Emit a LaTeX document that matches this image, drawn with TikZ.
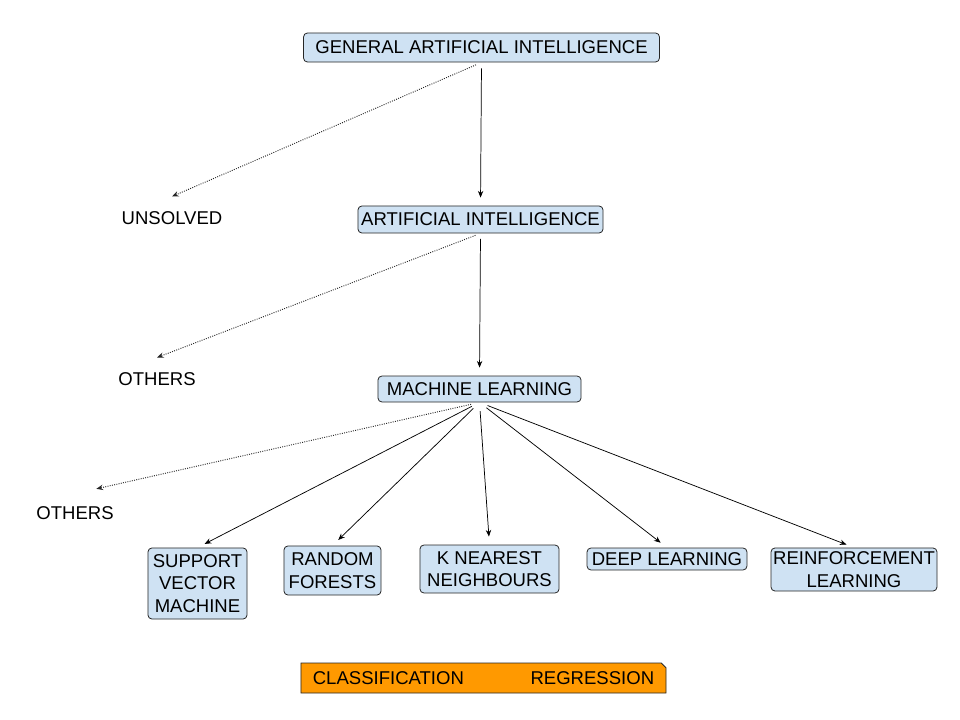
\documentclass[tikz,border=0pt]{standalone}
\usepackage{fontspec}
\setmainfont{Liberation Sans}
\usetikzlibrary{arrows.meta, shapes.misc}
\definecolor{boxblue}{RGB}{207,226,243}
\definecolor{boxorange}{RGB}{255,153,0}

\begin{document}
\begin{tikzpicture}[x=0.75pt,y=-0.75pt,
	font=\fontsize{13.9}{16.7}\selectfont,
	topic/.style={shape=rectangle,rounded corners=3pt,draw=black!85,line width=0.6pt,fill=boxblue,inner sep=0pt,align=center},
	plain/.style={inner sep=0pt,align=center},
	tip/.style={-{Stealth[length=5pt,width=4pt]}},
	solidarr/.style={tip,line width=0.55pt,black,shorten >=6pt},
	dotarr/.style={tip,densely dotted,line width=0.7pt,black!85}]
	\useasboundingbox (0,0) rectangle (960,720);

	\node[topic,minimum width=267pt,minimum height=21.8pt] (gai) at (481.5,47.5){GENERAL ARTIFICIAL INTELLIGENCE};
	\node[plain] (unsolved) at (172,218){UNSOLVED};
	\node[topic,minimum width=183.8pt,minimum height=20.3pt] (ai) at (480.5,219.5){ARTIFICIAL INTELLIGENCE};
	\node[plain] (others1) at (157,379){OTHERS};
	\node[topic,minimum width=152.3pt,minimum height=19.5pt] (ml) at (479.5,389){MACHINE LEARNING};
	\node[plain] (others2) at (75,513){OTHERS};

	% algorithms
	\node[topic,minimum width=74.3pt,minimum height=53.3pt] (svm) at (197.5,583.5){SUPPORT\\VECTOR\\MACHINE};
	\node[topic,minimum width=72.8pt,minimum height=36.8pt] (rf) at (332.5,570.5){RANDOM\\FORESTS};
	\node[topic,minimum width=104.3pt,minimum height=36pt] (knn) at (489.5,569){K NEAREST\\NEIGHBOURS};
	\node[topic,minimum width=120pt,minimum height=16.5pt] (dl) at (667,559){DEEP LEARNING};
	\node[topic,minimum width=124.5pt,minimum height=32.3pt] (rl) at (854,569.5){REINFORCEMENT\\LEARNING};

	\node[chamfered rectangle,chamfered rectangle corners=north east,chamfered rectangle xsep=1.8pt,chamfered rectangle ysep=1.8pt,
		draw=black!85,line width=0.6pt,fill=boxorange,inner sep=0pt,minimum width=273.8pt,minimum height=22.5pt] (task) at (483.5,678){CLASSIFICATION\hspace{50pt}REGRESSION};

	\path [solidarr,shorten <=4.5pt] (gai.south) edge (ai.north);
	\path [dotarr,shorten <=4.5pt] (gai.south) edge ([yshift=11pt]unsolved.north);
	\path [solidarr,shorten <=4pt] (ai.south) edge (ml.north);
	\path [dotarr,shorten <=4pt] (ai.south) edge ([yshift=11pt]others1.north);
	\path [dotarr,shorten <=6.5pt] (ml.south) edge ([xshift=16pt,yshift=13pt]others2.north);
	\path [solidarr,shorten <=6.5pt] (ml.south) edge (svm.north);
	\path [solidarr,shorten <=6.5pt] (ml.south) edge (rf.north);
	\path [solidarr,shorten <=6.5pt] (ml.south) edge (knn.north);
	\path [solidarr,shorten <=6.5pt] (ml.south) edge (dl.north);
	\path [solidarr,shorten <=6.5pt] (ml.south) edge (rl.north);
\end{tikzpicture}
\end{document}
